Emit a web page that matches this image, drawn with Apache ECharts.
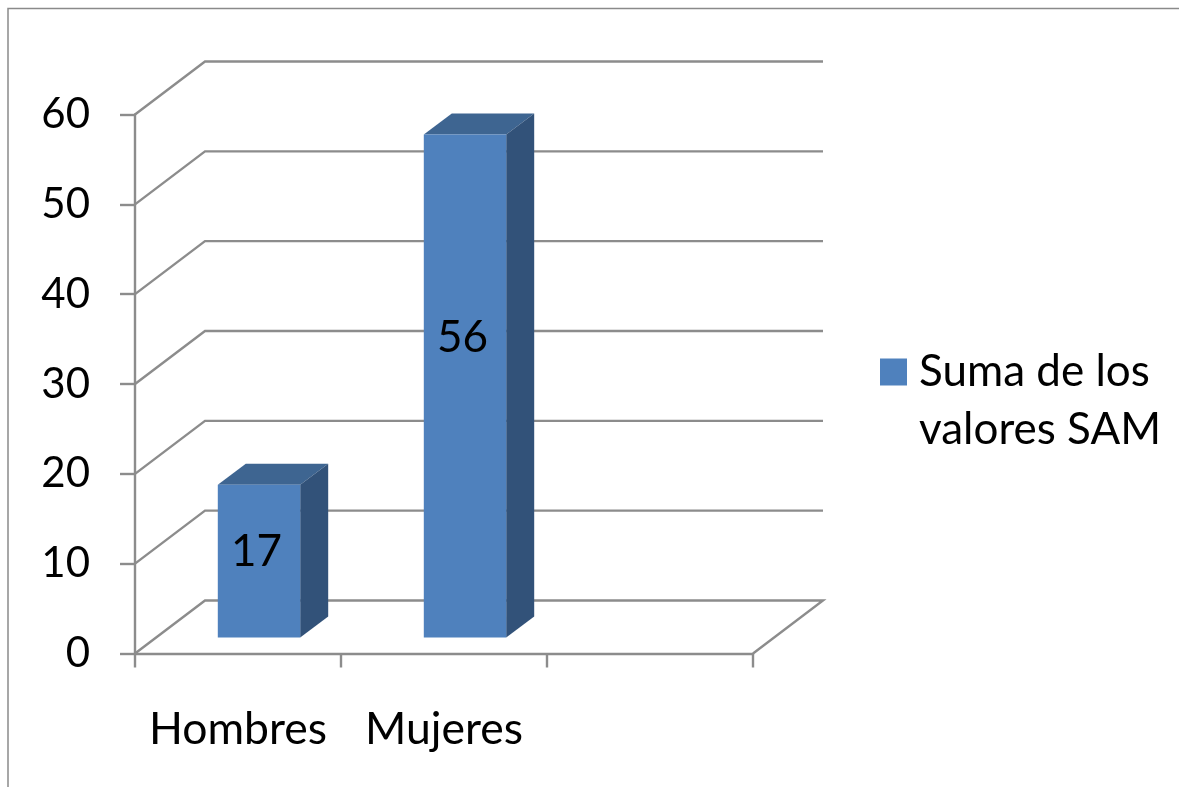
<!DOCTYPE html>
<html>
<head>
<meta charset="utf-8">
<style>html,body{margin:0;padding:0;background:#fff}#c{width:1179px;height:787px}</style>
<script src="https://cdn.jsdelivr.net/npm/echarts@6/dist/echarts.min.js"></script>
</head>
<body>
<div id="c"></div>
<script>
const categories = ['Hombres', 'Mujeres', ''];
const seriesName = 'Suma de los valores SAM';
const legendLines = ['Suma de los', 'valores SAM'];
const sumValues = [17, 56];
const yTicks = [0, 10, 20, 30, 40, 50, 60];

const FONT = 'Lato, Carlito, "Noto Sans", sans-serif';
const GRID = '#8c8c8c', FRONT = '#4F81BD', TOP = '#3E6591', SIDE = '#325279';
const WALL = [70, -53], BAR_SHIFT = [21, -16], BAR_DEPTH = [28, -21];

function renderWall(params, api) {
  const cs = params.coordSys;
  const tick = api.value(1);
  const y = api.coord([0, tick])[1];
  const x0 = cs.x, x1 = cs.x + cs.width;
  const style = { stroke: GRID, lineWidth: 2.4, fill: null };
  const pts = [[x0, y], [x0 + WALL[0], y + WALL[1]], [x1 + WALL[0], y + WALL[1]]];
  if (tick === yTicks[0]) pts.push([x1, y]);
  return { type: 'polyline', shape: { points: pts }, style, silent: true };
}

function renderBar(params, api) {
  const i = api.value(0), v = api.value(1);
  const c = api.coord([i, v]), b = api.coord([i, 0]);
  const w = api.size([1, 0])[0] * 0.4;
  const l = c[0] - w / 2 + BAR_SHIFT[0], r = l + w;
  const t = c[1] + BAR_SHIFT[1], bt = b[1] + BAR_SHIFT[1];
  const dx = BAR_DEPTH[0], dy = BAR_DEPTH[1];
  const h = bt - t;
  return {
    type: 'group',
    children: [
      { type: 'polygon', shape: { points: [[l, t], [l + dx, t + dy], [r + dx, t + dy], [r, t]] }, style: { fill: TOP } },
      { type: 'polygon', shape: { points: [[r, t], [r + dx, t + dy], [r + dx, bt + dy], [r, bt]] }, style: { fill: SIDE } },
      { type: 'rect', shape: { x: l, y: t, width: w, height: h }, style: { fill: FRONT } },
      { type: 'text', style: { text: String(v), x: (l + r) / 2 - 2.5, y: bt - (0.611 * h - 7.5), align: 'center', verticalAlign: 'middle',
        font: '44px ' + FONT, fill: '#000' } }
    ]
  };
}

const chart = echarts.init(document.getElementById('c'), null, { renderer: 'canvas' });
chart.setOption({
  animation: false,
  backgroundColor: '#fff',
  grid: { left: 135, right: 426, top: 114.5, bottom: 133.5 },
  xAxis: {
    type: 'category', data: categories, boundaryGap: true,
    axisLine: { show: true, lineStyle: { color: GRID, width: 2.4 } },
    axisTick: { show: true, length: 14, lineStyle: { color: GRID, width: 2.4 } },
    axisLabel: { color: '#000', fontSize: 44.5, fontFamily: FONT, margin: 54, interval: 0 },
    splitLine: { show: false }
  },
  yAxis: {
    type: 'value', min: 0, max: 60, interval: 10,
    axisLine: { show: true, lineStyle: { color: GRID, width: 2.4 } },
    axisTick: { show: true, length: 15, lineStyle: { color: GRID, width: 2.4 } },
    axisLabel: { color: '#000', fontSize: 42, fontFamily: FONT, margin: 45, padding: [3, 0, 0, 0] },
    splitLine: { show: false }
  },
  legend: {
    show: true, left: 880, top: 292, padding: 0, orient: 'vertical',
    itemWidth: 27, itemHeight: 27, itemGap: 0, selectedMode: false,
    icon: 'rect', data: [seriesName],
    formatter: () => ['{a|\u00a0}'].concat(legendLines.map(s => '{a|' + s + '}')).join('\n'),
    textStyle: {
      color: '#000',
      rich: { a: { color: '#000', fontSize: 44, fontFamily: FONT, lineHeight: 58, padding: [0, 0, 0, 7] } }
    }
  },
  series: [
    { type: 'custom', name: 'walls', data: yTicks.map(t => [0, t]), renderItem: renderWall, z: 1, silent: true, clip: false },
    { type: 'custom', name: seriesName, data: sumValues.map((v, i) => [i, v]), renderItem: renderBar, z: 2, itemStyle: { color: FRONT }, clip: false }
  ],
  graphic: [
    { type: 'polyline', silent: true, shape: { points: [[8, 787], [8, 8.5], [1179, 8.5]] }, style: { stroke: '#8a8a8a', lineWidth: 1.5, fill: null } }
  ]
});
</script>
</body>
</html>
